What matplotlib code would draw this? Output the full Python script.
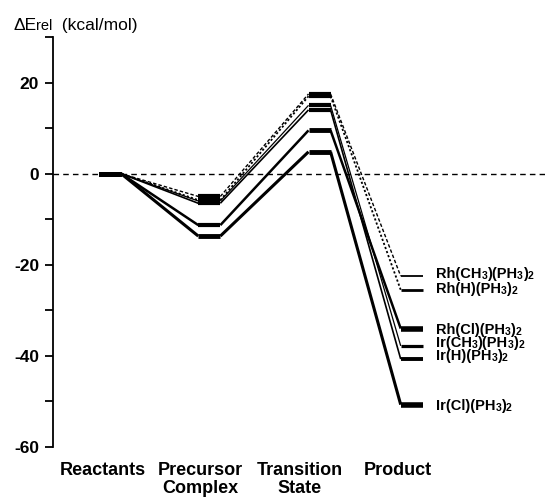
import matplotlib
matplotlib.use("Agg")
import matplotlib.pyplot as plt
import matplotlib.transforms as mtransforms

plt.rcParams['font.family'] = ['Liberation Sans', 'DejaVu Sans']

# ---- data ----
stages = ["Reactants", "Precursor\nComplex", "Transition\nState", "Product"]
stage_x = [1.0, 1.99, 3.09, 4.01]
# label pieces: (text, is_subscript)
series_names = [
    [("Rh(CH", 0), ("3", 1), (")(PH", 0), ("3", 1), (")", 0), ("2", 1)],
    [("Rh(H)(PH", 0), ("3", 1), (")", 0), ("2", 1)],
    [("Rh(Cl)(PH", 0), ("3", 1), (")", 0), ("2", 1)],
    [("Ir(CH", 0), ("3", 1), (")(PH", 0), ("3", 1), (")", 0), ("2", 1)],
    [("Ir(H)(PH", 0), ("3", 1), (")", 0), ("2", 1)],
    [("Ir(Cl)(PH", 0), ("3", 1), (")", 0), ("2", 1)],
]
rh_ch3 = [0, -5.0, 17.5, -22.5]
rh_h = [0, -5.8, 17.0, -25.5]
rh_cl = [0, -11.3, 9.5, -34.0]
ir_ch3 = [0, -6.0, 15.0, -37.8]
ir_h = [0, -6.5, 14.0, -40.7]
ir_cl = [0, -13.7, 4.8, -50.7]
series = [rh_ch3, rh_h, rh_cl, ir_ch3, ir_h, ir_cl]
label_y = [-21.9, -25.2, -34.0, -36.9, -39.9, -50.7]
yticks = [20, 0, -20, -40, -60]
ylabel_parts = [("ΔE", 0), ("rel", 1), ("  (kcal/mol)", 0)]

# ---- styles ----
line_styles = [dict(ls=(0, (2.5, 1.5)), lw=1.0),
               dict(ls=(0, (1.2, 1.2)), lw=1.3),
               dict(ls='-', lw=1.8),
               dict(ls='-', lw=0.9),
               dict(ls='-', lw=1.2),
               dict(ls='-', lw=2.2)]
bar_lw = [[3.5, 3, 3, 1.3], [3.5, 3, 3, 2.0], [3.5, 3, 3.5, 4.0],
          [3.5, 3, 3, 2.3], [3.5, 3, 3, 2.8], [3.5, 3.5, 3.5, 4.0]]
hw = 0.11

fig = plt.figure(figsize=(5.45, 4.98), dpi=100)
ax = fig.add_axes([53/545, 51/498, 1 - 53/545, (447-37)/498])
ax.set_xlim(0.43, 5.34)
ax.set_ylim(-60, 30)
renderer = fig.canvas.get_renderer()


def rich_text(x, y, parts, base_trans, size, sub_size, weight, base_dy, sub_dy):
    cx = 0.0
    for s, sub in parts:
        tr = mtransforms.offset_copy(base_trans, fig=fig, x=cx,
                                     y=(sub_dy if sub else base_dy), units='dots')
        t = fig.text(x, y, s, transform=tr, fontsize=(sub_size if sub else size),
                     fontweight=weight, va='baseline', ha='left')
        cx += t.get_window_extent(renderer).width


ax.axhline(0, color='black', lw=1.0, ls=(0, (4, 3)), zorder=1)

for vals, st, blw in zip(series, line_styles, bar_lw):
    for i in range(len(stage_x)):
        ax.hlines(vals[i], stage_x[i] - hw, stage_x[i] + hw, color='black',
                  lw=blw[i], zorder=3)
    for i in range(len(stage_x) - 1):
        ax.plot([stage_x[i] + hw, stage_x[i+1] - hw], [vals[i], vals[i+1]],
                color='black', linestyle=st['ls'], lw=st['lw'], zorder=2,
                solid_capstyle='butt')

for parts, ly in zip(series_names, label_y):
    rich_text(4.25, ly, parts, ax.transData, 10.5, 7.5, 'bold', -5, -6)

# axes styling
for s in ['top', 'right', 'bottom']:
    ax.spines[s].set_visible(False)
ax.spines['left'].set_linewidth(1.3)
ax.set_xticks([])
ax.set_yticks(yticks)
ax.set_yticklabels([str(v) for v in yticks], fontsize=12.5, fontweight='bold')
ax.set_yticks([30, 10, -10, -30, -50], minor=True)
ax.tick_params(axis='y', which='both', direction='out', length=6, width=1.3, pad=4)

trans = mtransforms.blended_transform_factory(ax.transData, fig.transFigure)
label_x = [0.93, 1.9, 2.89, 3.87]
for lx, s in zip(label_x, stages):
    ax.text(lx, 1 - 462/498, s, transform=trans, ha='center', va='top',
            fontsize=13, fontweight='bold', linespacing=1.1)

rich_text(13/545, 1 - 30/498, ylabel_parts, fig.transFigure, 12.5, 10.5, 'normal', 0, 0)

fig.savefig("out.png", dpi=100)
